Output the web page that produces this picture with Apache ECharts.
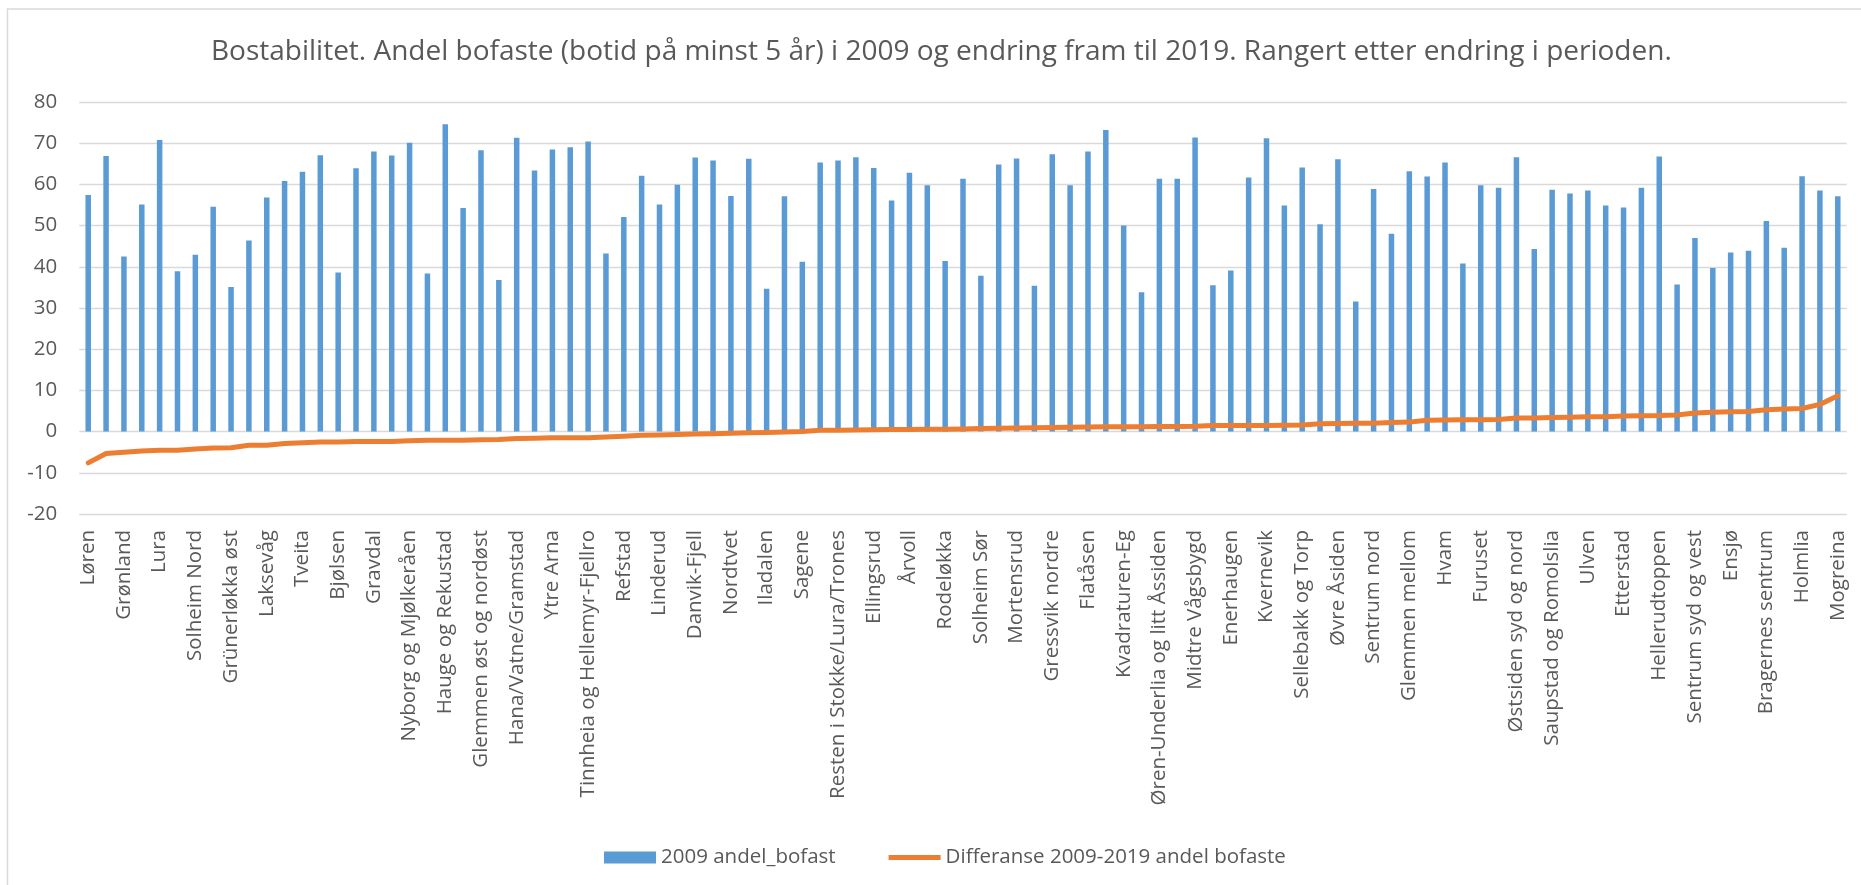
<!DOCTYPE html>
<html lang="no">
<head>
<meta charset="utf-8">
<title>Bostabilitet</title>
<script src="https://cdn.jsdelivr.net/npm/echarts@6/dist/echarts.min.js"></script>
<style>
  html, body { margin: 0; padding: 0; background: #ffffff; }
  #chart { width: 1861px; height: 885px; }
</style>
</head>
<body>
<div id="chart"></div>
<script>
// Named districts (every second district along the axis carries a label)
const labelledDistricts = [
  'Løren', 'Grønland', 'Lura', 'Solheim Nord', 'Grünerløkka øst', 'Laksevåg', 'Tveita',
  'Bjølsen', 'Gravdal', 'Nyborg og Mjølkeråen', 'Hauge og Rekustad', 'Glemmen øst og nordøst',
  'Hana/Vatne/Gramstad', 'Ytre Arna', 'Tinnheia og Hellemyr-Fjellro', 'Refstad', 'Linderud',
  'Danvik-Fjell', 'Nordtvet', 'Iladalen', 'Sagene', 'Resten i Stokke/Lura/Trones', 'Ellingsrud',
  'Årvoll', 'Rodeløkka', 'Solheim Sør', 'Mortensrud', 'Gressvik nordre', 'Flatåsen',
  'Kvadraturen-Eg', 'Øren-Underlia og litt Åssiden', 'Midtre Vågsbygd', 'Enerhaugen',
  'Kvernevik', 'Sellebakk og Torp', 'Øvre Åsiden', 'Sentrum nord', 'Glemmen mellom', 'Hvam',
  'Furuset', 'Østsiden syd og nord', 'Saupstad og Romolslia', 'Ulven', 'Etterstad',
  'Hellerudtoppen', 'Sentrum syd og vest', 'Ensjø', 'Bragernes sentrum', 'Holmlia', 'Mogreina'
];

// Share of settled residents (at least 5 years) in 2009, per district
const andelBofast2009 = [
  57.4, 66.9, 42.5, 55.1, 70.8, 38.9, 42.9, 54.6, 35.1, 46.4,
  56.8, 60.8, 63.1, 67.1, 38.6, 63.9, 68.0, 67.0, 70.1, 38.4,
  74.6, 54.3, 68.3, 36.8, 71.3, 63.4, 68.5, 69.0, 70.4, 43.2,
  52.1, 62.1, 55.1, 59.9, 66.5, 65.8, 57.2, 66.2, 34.7, 57.1,
  41.2, 65.3, 65.8, 66.6, 64.0, 56.1, 62.8, 59.8, 41.4, 61.4,
  37.8, 64.8, 66.3, 35.4, 67.3, 59.8, 68.0, 73.2, 50.0, 33.8,
  61.4, 61.4, 71.4, 35.5, 39.1, 61.7, 71.2, 54.9, 64.1, 50.3,
  66.1, 31.6, 58.9, 48.0, 63.2, 61.9, 65.3, 40.8, 59.8, 59.2,
  66.6, 44.3, 58.7, 57.8, 58.5, 54.9, 54.4, 59.2, 66.8, 35.7,
  47.0, 39.7, 43.5, 43.9, 51.1, 44.6, 62.0, 58.5, 57.1
];

// Change in the share from 2009 to 2019 (percentage points), sorted ascending
const differanse2009til2019 = [
  -7.6, -5.3, -5.0, -4.7, -4.5, -4.5, -4.2, -4.0, -3.9, -3.3,
  -3.3, -2.9, -2.7, -2.5, -2.5, -2.4, -2.4, -2.4, -2.2, -2.1,
  -2.1, -2.1, -2.0, -1.9, -1.7, -1.6, -1.5, -1.5, -1.5, -1.3,
  -1.1, -0.9, -0.8, -0.7, -0.6, -0.5, -0.4, -0.3, -0.2, -0.1,
  0.0, 0.3, 0.35, 0.4, 0.45, 0.5, 0.5, 0.55, 0.6, 0.65,
  0.75, 0.8, 0.9, 0.95, 1.0, 1.05, 1.1, 1.2, 1.15, 1.2,
  1.25, 1.25, 1.3, 1.5, 1.5, 1.5, 1.5, 1.55, 1.6, 1.9,
  1.95, 2.0, 2.05, 2.2, 2.3, 2.75, 2.8, 2.85, 2.9, 2.95,
  3.3, 3.3, 3.4, 3.5, 3.6, 3.6, 3.8, 3.85, 3.9, 4.05,
  4.5, 4.7, 4.8, 4.9, 5.3, 5.5, 5.6, 6.6, 8.7
];

// Value axis ticks
const yTicks = { min: -20, max: 80, step: 10 };

const seriesNames = ['2009 andel_bofast', 'Differanse 2009-2019 andel bofaste'];
const chartTitle = 'Bostabilitet. Andel bofaste (botid på minst 5 år) i 2009 og endring fram til 2019. Rangert etter endring i perioden.';

// One axis slot per district; unlabelled slots stay blank
const categories = andelBofast2009.map((_, i) => (i % 2 === 0 ? labelledDistricts[i / 2] : ''));

const FONT = '"Open Sans", "Liberation Sans", sans-serif';
const TEXT_GREY = '#595959';
const GRID_GREY = '#d9d9d9';
const BAR_BLUE = '#5B9BD5';
const LINE_ORANGE = '#ED7D31';

const chart = echarts.init(document.getElementById('chart'), null, { renderer: 'canvas' });

chart.setOption({
  backgroundColor: '#ffffff',
  animation: false,
  textStyle: { fontFamily: FONT },
  graphic: [{
    type: 'rect',
    shape: { x: 7.5, y: 9, width: 1900, height: 900 },
    style: { fill: 'none', stroke: GRID_GREY, lineWidth: 1.5 },
    silent: true,
    z: -10
  }],
  title: {
    text: chartTitle,
    left: 206,
    top: 33,
    textStyle: { fontFamily: FONT, fontSize: 28, fontWeight: 'normal', color: TEXT_GREY }
  },
  legend: {
    left: 599,
    top: 842,
    itemWidth: 52,
    itemHeight: 12,
    itemGap: 53,
    textStyle: { fontFamily: FONT, fontSize: 20.5, color: TEXT_GREY },
    data: [
      { name: seriesNames[0], icon: 'rect' },
      // flat stroke key for the line series
      { name: seriesNames[1], icon: 'path://M0,0H52V5H0Z', itemStyle: { color: LINE_ORANGE } }
    ]
  },
  grid: { left: 79.3, right: 14.3, top: 102, bottom: 371, containLabel: false },
  xAxis: {
    type: 'category',
    data: categories,
    boundaryGap: true,
    axisLine: { show: false },
    axisTick: { show: false },
    axisLabel: {
      interval: 0,
      rotate: 90,
      margin: 16,
      fontFamily: FONT,
      fontSize: 20.5,
      color: TEXT_GREY
    }
  },
  yAxis: {
    type: 'value',
    min: yTicks.min,
    max: yTicks.max,
    interval: yTicks.step,
    axisLine: { show: false },
    axisTick: { show: false },
    axisLabel: { margin: 22, fontFamily: FONT, fontSize: 20.5, color: TEXT_GREY },
    splitLine: { lineStyle: { color: GRID_GREY, width: 1.3 } }
  },
  series: [
    {
      name: seriesNames[0],
      type: 'bar',
      data: andelBofast2009,
      barWidth: 5.5,
      itemStyle: { color: BAR_BLUE }
    },
    {
      name: seriesNames[1],
      type: 'line',
      data: differanse2009til2019,
      symbol: 'none',
      z: 5,
      itemStyle: { color: LINE_ORANGE },
      lineStyle: { color: LINE_ORANGE, width: 5, cap: 'round', join: 'round' }
    }
  ]
});
</script>
</body>
</html>
